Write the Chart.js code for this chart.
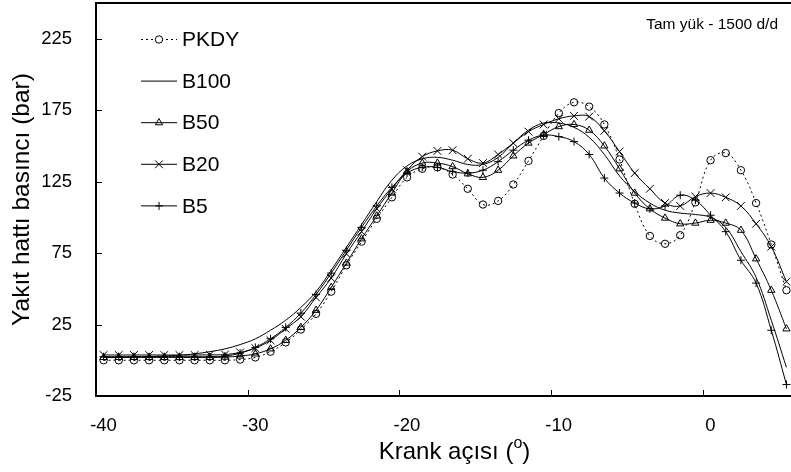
<!DOCTYPE html>
<html>
<head>
<meta charset="utf-8">
<script src="https://cdn.jsdelivr.net/npm/chart.js@4.4.0/dist/chart.umd.min.js"></script>
<style>
  html, body { margin: 0; padding: 0; background: #fff; }
  #wrap { width: 791px; height: 472px; }
</style>
</head>
<body>
<div id="wrap"><canvas id="myChart" width="791" height="472"></canvas></div>
<script>
// crank angle of every sample (deg)
const angles = [-39.5, -38.5, -37.5, -36.5, -35.5, -34.5, -33.5, -32.5, -31.5, -30.5,
                -29.5, -28.5, -27.5, -26.5, -25.5, -24.5, -23.5, -22.5, -21.5, -20.5,
                -19.5, -18.5, -17.5, -16.5, -15.5, -14.5, -13.5, -12.5, -11.5, -10.5,
                -9.5, -8.5, -7.5, -6.5, -5.5, -4.5, -3.5, -2.5, -1.5, -0.5,
                0.5, 1.5, 2.5, 3.5, 4.5, 5.5];

// fuel line pressure (bar)
const pkdy = [0, 0, 0, 0, 0, 0, 0, 0, 0, 0.5,
              2, 6, 12.5, 21.5, 32.5, 48, 66.5, 83, 99, 114,
              128, 134, 135, 130, 120, 109, 111.5, 123, 139.5, 157,
              173, 180.5, 177.5, 165, 140.5, 109.5, 87, 81.5, 87.5, 110.5,
              140, 145, 133, 110, 81, 49];
const b100 = [2, 2, 2.2, 2.5, 3, 3.5, 4.5, 6, 8, 11,
              15, 21, 28, 37, 48, 63, 79, 95, 111, 126,
              136, 141, 142, 140, 137, 137, 142, 152, 161, 166,
              166, 163, 156, 144, 129, 118, 110, 105, 103, 102,
              100, 93, 76, 58, 28, -5];
const b50 = [2, 2, 2, 2, 2, 2, 2, 2, 2.2, 3,
             4.5, 8, 14, 23, 35, 51, 68, 85, 101, 117,
             132, 138, 138, 135.5, 130.5, 128, 133, 143, 152, 158,
             163.5, 165, 161, 150, 134, 117, 106, 99.5, 95.5, 96,
             98, 96, 91, 71, 49, 22];
const b20 = [3.7, 3.7, 3.7, 3.7, 3.7, 3.7, 3.7, 3.8, 4, 5.5,
             8.5, 14, 22, 30.5, 44, 57.5, 74.5, 90, 106, 120,
             133, 142.5, 146.5, 147, 141, 138, 144, 152, 160, 165,
             169, 171, 170.5, 160.5, 146, 131, 120, 110, 108, 114.5,
             117, 114, 108, 95.5, 79.5, 55];
const b5 = [2.5, 2.5, 2.5, 2.5, 2.5, 2.5, 2.5, 2.5, 3, 5,
            9, 15, 23, 33, 46, 61, 77, 93, 108, 121,
            131, 135, 135, 132, 131, 133, 139, 147, 154, 157.5,
            156.5, 153, 144, 127.5, 117, 110, 106, 108, 115.5, 112,
            101.5, 90, 70, 54, 21, -17];

const xTicks = [-40, -30, -20, -10, 0];
const yTicks = [-25, 25, 75, 125, 175, 225];

const FONT = "'Liberation Sans', Arial, sans-serif";

function pts(vals) {
  return angles.map((a, i) => ({x: a, y: vals[i]}));
}

function series(label, vals, style, radius, dash) {
  return {
    label: label,
    data: pts(vals),
    borderColor: '#000',
    borderWidth: 1,
    borderDash: dash || [],
    pointStyle: style,
    pointRadius: style ? radius : 0,
    pointBorderColor: '#000',
    pointBorderWidth: 1,
    pointBackgroundColor: 'rgba(0,0,0,0)',
    tension: 0.4
  };
}

function marker(ctx, style, r, x, y) {
  ctx.beginPath();
  if (style === 'circle') {
    ctx.arc(x, y, r, 0, Math.PI * 2);
  } else if (style === 'triangle') {
    let a = 0;
    for (let k = 0; k < 3; k++) {
      const px = x + Math.sin(a) * r, py = y - Math.cos(a) * r;
      k === 0 ? ctx.moveTo(px, py) : ctx.lineTo(px, py);
      a += Math.PI * 2 / 3;
    }
    ctx.closePath();
  } else if (style === 'cross') {
    ctx.moveTo(x - r, y); ctx.lineTo(x + r, y);
    ctx.moveTo(x, y - r); ctx.lineTo(x, y + r);
  } else if (style === 'crossRot') {
    const o = r * Math.SQRT1_2;
    ctx.moveTo(x - o, y - o); ctx.lineTo(x + o, y + o);
    ctx.moveTo(x + o, y - o); ctx.lineTo(x - o, y + o);
  }
  ctx.stroke();
}

const frame = {
  id: 'frame',
  afterDatasetsDraw(chart) {
    const {ctx, chartArea: ca, scales} = chart;
    ctx.save();
    ctx.strokeStyle = '#000';
    // box (top, left, bottom)
    ctx.lineWidth = 2;
    ctx.beginPath();
    ctx.moveTo(ca.right, ca.top); ctx.lineTo(ca.left, ca.top);
    ctx.lineTo(ca.left, ca.bottom); ctx.lineTo(ca.right, ca.bottom);
    ctx.stroke();
    // inward tick marks
    ctx.lineWidth = 1;
    ctx.beginPath();
    scales.y.ticks.forEach(t => {
      const py = Math.round(scales.y.getPixelForValue(t.value)) + 0.5;
      ctx.moveTo(ca.left, py); ctx.lineTo(ca.left + 6, py);
    });
    scales.x.ticks.forEach(t => {
      const px = Math.round(scales.x.getPixelForValue(t.value)) + 0.5;
      ctx.moveTo(px, ca.bottom); ctx.lineTo(px, ca.bottom - 6);
    });
    ctx.stroke();

    // legend
    ctx.fillStyle = '#000';
    ctx.font = '21px ' + FONT;
    ctx.textBaseline = 'middle';
    ctx.textAlign = 'left';
    chart.data.datasets.forEach((ds, i) => {
      const y = 39.5 + i * 41.6;
      ctx.setLineDash(ds.borderDash);
      ctx.beginPath();
      ctx.moveTo(141, y); ctx.lineTo(177, y);
      ctx.stroke();
      ctx.setLineDash([]);
      if (ds.pointStyle) {
        if (ds.pointStyle === 'circle') {
          ctx.fillStyle = '#fff';
          ctx.beginPath(); ctx.arc(159, y, ds.pointRadius, 0, Math.PI * 2); ctx.fill();
          ctx.fillStyle = '#000';
        }
        marker(ctx, ds.pointStyle, ds.pointRadius, 159, y);
      }
      ctx.fillText(ds.label, 182, y + 1);
    });

    // load / speed note
    ctx.font = '15.5px ' + FONT;
    ctx.textAlign = 'right';
    ctx.fillText('Tam yük - 1500 d/d', 778, 25);

    // x title with superscript o
    const main = 'Krank açısı (', sup = 'o', close = ')';
    ctx.font = '24px ' + FONT;
    const w1 = ctx.measureText(main).width, w3 = ctx.measureText(close).width;
    ctx.font = '16px ' + FONT;
    const w2 = ctx.measureText(sup).width;
    let x0 = 454.5 - (w1 + w2 + w3) / 2;
    ctx.textAlign = 'left';
    ctx.font = '24px ' + FONT;
    ctx.fillText(main, x0, 452);
    ctx.font = '16px ' + FONT;
    ctx.fillText(sup, x0 + w1, 444);
    ctx.font = '24px ' + FONT;
    ctx.fillText(close, x0 + w1 + w2, 452);
    ctx.restore();
  }
};

const config = {
  type: 'line',
  data: {
    datasets: [
      series('PKDY', pkdy, 'circle', 3.7, [2, 3]),
      series('B100', b100, false, 0),
      series('B50', b50, 'triangle', 4.2),
      series('B20', b20, 'crossRot', 5.5),
      series('B5', b5, 'cross', 4)
    ]
  },
  options: {
    responsive: false,
    animation: false,
    devicePixelRatio: 1,
    layout: { autoPadding: false, padding: { top: 3, left: 0, right: 0, bottom: 0 } },
    plugins: {
      legend: { display: false },
      tooltip: { enabled: false },
      title: { display: false }
    },
    scales: {
      x: {
        type: 'linear',
        min: -40,
        max: 5.8,
        afterBuildTicks: s => { s.ticks = xTicks.map(v => ({value: v})); },
        afterFit: s => { s.height = 76; s.paddingLeft = 0; s.paddingRight = 0; },
        grid: { display: false },
        border: { display: false },
        ticks: {
          color: '#000',
          font: { family: FONT, size: 18.5 },
          padding: 11,
          labelOffset: 7.5,
          maxRotation: 0,
          autoSkip: false
        }
      },
      y: {
        type: 'linear',
        min: -25,
        max: 250,
        afterBuildTicks: s => { s.ticks = yTicks.map(v => ({value: v})); },
        afterFit: s => { s.width = 96; s.paddingTop = 0; s.paddingBottom = 0; },
        grid: { display: false },
        border: { display: false },
        ticks: {
          color: '#000',
          font: { family: FONT, size: 18.5 },
          padding: 16,
          autoSkip: false
        },
        title: {
          display: true,
          text: 'Yakıt hattı basıncı (bar)',
          color: '#000',
          font: { family: FONT, size: 24.5 },
          padding: { top: 8, bottom: 0 }
        }
      }
    }
  },
  plugins: [frame]
};

const myChart = new Chart(document.getElementById('myChart'), config);
</script>
</body>
</html>
